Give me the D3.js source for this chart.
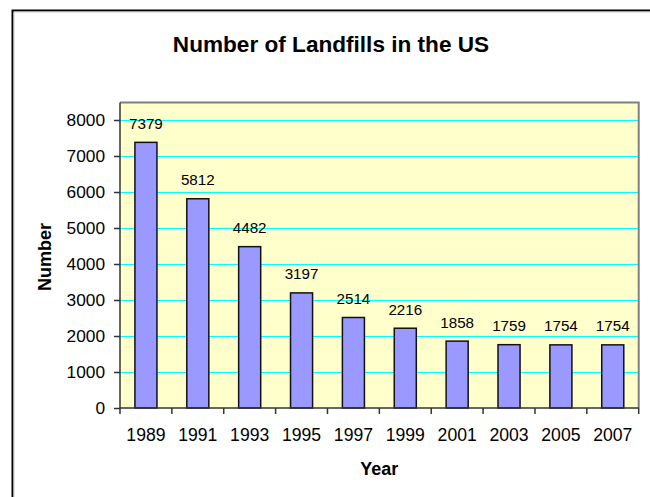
<!DOCTYPE html>
<html>
<head>
<meta charset="utf-8">
<script src="https://cdn.jsdelivr.net/npm/d3@7"></script>
<style>
  html, body { margin: 0; padding: 0; background: #fff; }
  svg { display: block; }
  text { font-family: Arial, "Liberation Sans", sans-serif; fill: #000; }
</style>
</head>
<body>
<div id="chart"></div>
<script>
const years = ["1989", "1991", "1993", "1995", "1997", "1999", "2001", "2003", "2005", "2007"];
const landfills = [7379, 5812, 4482, 3197, 2514, 2216, 1858, 1759, 1754, 1754];
const yTicks = [0, 1000, 2000, 3000, 4000, 5000, 6000, 7000, 8000];
const titleText = "Number of Landfills in the US";
const xTitle = "Year";
const yTitle = "Number";

const W = 650, H = 497;
const plot = { left: 120, right: 638.7, top: 102.5, bottom: 408 };

const svg = d3.select("#chart").append("svg").attr("width", W).attr("height", H);

// outer chart border (left & top visible)
svg.append("path")
  .attr("d", `M12.5,${H + 5} L12.5,10.5 L${W + 5},10.5`)
  .attr("fill", "none").attr("stroke", "#000").attr("stroke-width", 2);
svg.append("path")
  .attr("d", `M14,${H + 5} L14,12 L${W + 5},12`)
  .attr("fill", "none").attr("stroke", "#c8c8c8").attr("stroke-width", 1);

const x = d3.scaleBand().domain(years).range([plot.left, plot.right]).paddingInner(0.575).paddingOuter(0.2875);
const y = d3.scaleLinear().domain([0, 8000]).range([plot.bottom, 120]);

// plot background
svg.append("rect")
  .attr("x", plot.left).attr("y", plot.top)
  .attr("width", plot.right - plot.left).attr("height", plot.bottom - plot.top)
  .attr("fill", "#FFFFCC");

// gridlines
svg.append("g").selectAll("line").data(yTicks.filter(d => d > 0)).join("line")
  .attr("x1", plot.left).attr("x2", plot.right)
  .attr("y1", d => Math.round(y(d)) + 0.5).attr("y2", d => Math.round(y(d)) + 0.5)
  .attr("stroke", "#00FFFF").attr("stroke-width", 1.2);

// plot border top & right
svg.append("path")
  .attr("d", `M${plot.left},${plot.top} L${plot.right},${plot.top} L${plot.right},${plot.bottom}`)
  .attr("fill", "none").attr("stroke", "#808080").attr("stroke-width", 2);

// bars
svg.append("g").selectAll("rect").data(landfills).join("rect")
  .attr("x", (d, i) => x(years[i]))
  .attr("y", d => y(d))
  .attr("width", x.bandwidth())
  .attr("height", d => y(0) - y(d))
  .attr("fill", "#9999FF")
  .attr("stroke", "#111").attr("stroke-width", 1.5);

// data labels
svg.append("g").selectAll("text").data(landfills).join("text")
  .attr("x", (d, i) => x(years[i]) + x.bandwidth() / 2)
  .attr("y", d => y(d) - 13.5)
  .attr("text-anchor", "middle")
  .attr("font-size", "15.2px")
  .text(d => d);

// y axis
const yAxis = svg.append("g").attr("transform", `translate(${plot.left},0)`)
  .call(d3.axisLeft(y).tickValues(yTicks).tickFormat(d3.format("d")).tickSize(6).tickPadding(9));
yAxis.select(".domain").attr("stroke", "#333").attr("stroke-width", 1.5).attr("d", `M0,${plot.top}V${plot.bottom}`);
yAxis.selectAll(".tick line").attr("stroke", "#333").attr("stroke-width", 1.5);
yAxis.selectAll(".tick text").attr("font-size", "17.3px").attr("fill", "#000")
  .attr("font-family", 'Arial, "Liberation Sans", sans-serif');

// x axis (labels)
const xAxis = svg.append("g").attr("transform", `translate(0,${plot.bottom})`)
  .call(d3.axisBottom(x).tickSize(0).tickPadding(21));
xAxis.select(".domain").attr("stroke", "#333").attr("stroke-width", 1.5).attr("d", `M${plot.left},0H${plot.right}`);
xAxis.selectAll(".tick text").attr("font-size", "17.6px").attr("fill", "#000")
  .attr("font-family", 'Arial, "Liberation Sans", sans-serif');

// x boundary ticks
const bounds = d3.range(years.length + 1).map(i => plot.left + i * x.step());
svg.append("g").selectAll("line").data(bounds).join("line")
  .attr("x1", d => d).attr("x2", d => d)
  .attr("y1", plot.bottom).attr("y2", plot.bottom + 6)
  .attr("stroke", "#333").attr("stroke-width", 1.5);

// title
svg.append("text")
  .attr("x", 331).attr("y", 52)
  .attr("text-anchor", "middle")
  .attr("font-size", "22.6px").attr("font-weight", "bold")
  .text(titleText);

// axis titles
svg.append("text")
  .attr("x", (plot.left + plot.right) / 2).attr("y", 475)
  .attr("text-anchor", "middle")
  .attr("font-size", "18px").attr("font-weight", "bold")
  .text(xTitle);

svg.append("text")
  .attr("transform", `translate(51,257) rotate(-90)`)
  .attr("text-anchor", "middle")
  .attr("font-size", "18px").attr("font-weight", "bold")
  .text(yTitle);
</script>
</body>
</html>
